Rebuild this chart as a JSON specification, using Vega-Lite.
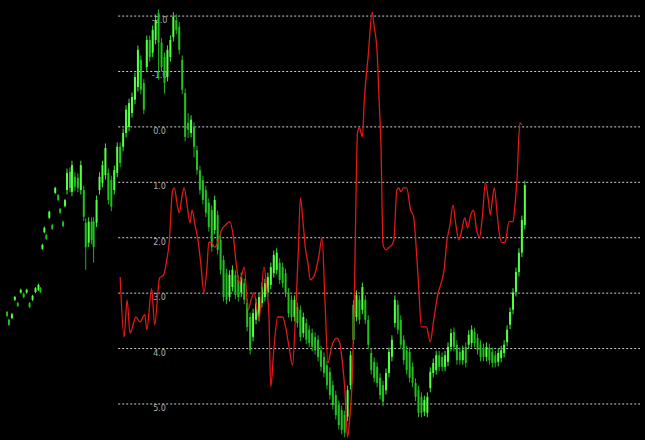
{
  "$schema": "https://vega.github.io/schema/vega-lite/v6.json",
  "width": 645,
  "height": 440,
  "autosize": {"type": "fit", "contains": "padding"},
  "padding": 0,
  "background": "#000000",
  "config": {"view": {"stroke": null}},
  "datasets": {
    "grid": [
      {"v": -2, "label": "-2.0"}, {"v": -1, "label": "-1.0"}, {"v": 0, "label": "0.0"}, {"v": 1, "label": "1.0"},
      {"v": 2, "label": "2.0"}, {"v": 3, "label": "3.0"}, {"v": 4, "label": "4.0"}, {"v": 5, "label": "5.0"}
    ],
    "candles": [
      {"t":2,"o":3.34,"c":3.41,"h":3.32,"l":3.43},
      {"t":4,"o":3.48,"c":3.57,"h":3.46,"l":3.59},
      {"t":7,"o":3.45,"c":3.38,"h":3.36,"l":3.47},
      {"t":10,"o":3.12,"c":3.07,"h":3.05,"l":3.14},
      {"t":13,"o":3.18,"c":3.23,"h":3.16,"l":3.25},
      {"t":16,"o":2.99,"c":2.94,"h":2.92,"l":3.01},
      {"t":19,"o":3.01,"c":3.07,"h":2.99,"l":3.09},
      {"t":22,"o":2.99,"c":2.94,"h":2.92,"l":3.01},
      {"t":25,"o":3.18,"c":3.25,"h":3.16,"l":3.27},
      {"t":28,"o":3.12,"c":3.05,"h":3.03,"l":3.14},
      {"t":31,"o":2.98,"c":2.91,"h":2.89,"l":3.00},
      {"t":34,"o":2.94,"c":2.85,"h":2.83,"l":2.96},
      {"t":36,"o":2.91,"c":2.98,"h":2.89,"l":3.00},
      {"t":38,"o":2.20,"c":2.13,"h":2.11,"l":2.22},
      {"t":40,"o":1.90,"c":1.82,"h":1.80,"l":1.92},
      {"t":42,"o":1.95,"c":2.02,"h":1.93,"l":2.04},
      {"t":45,"o":1.64,"c":1.53,"h":1.51,"l":1.66},
      {"t":48,"o":1.77,"c":1.84,"h":1.75,"l":1.86},
      {"t":51,"o":1.19,"c":1.10,"h":1.08,"l":1.21},
      {"t":54,"o":1.23,"c":1.32,"h":1.21,"l":1.34},
      {"t":56,"o":1.48,"c":1.55,"h":1.46,"l":1.57},
      {"t":59,"o":1.71,"c":1.79,"h":1.69,"l":1.81},
      {"t":61,"o":1.43,"c":1.32,"h":1.30,"l":1.45},
      {"t":63,"o":1.14,"c":0.83,"h":0.75,"l":1.22},
      {"t":66,"o":0.81,"c":1.10,"h":0.73,"l":1.18},
      {"t":68,"o":1.17,"c":0.69,"h":0.61,"l":1.25},
      {"t":71,"o":0.90,"c":1.08,"h":0.82,"l":1.16},
      {"t":74,"o":0.92,"c":1.10,"h":0.84,"l":1.18},
      {"t":77,"o":1.14,"c":0.69,"h":0.61,"l":1.22},
      {"t":80,"o":1.14,"c":1.62,"h":1.06,"l":1.70},
      {"t":82,"o":1.73,"c":2.17,"h":1.65,"l":2.58},
      {"t":85,"o":2.09,"c":1.71,"h":1.63,"l":2.17},
      {"t":88,"o":1.71,"c":2.04,"h":1.63,"l":2.12},
      {"t":90,"o":1.71,"c":2.17,"h":1.63,"l":2.45},
      {"t":93,"o":1.73,"c":1.32,"h":1.24,"l":1.81},
      {"t":96,"o":1.14,"c":0.90,"h":0.82,"l":1.22},
      {"t":99,"o":1.01,"c":0.69,"h":0.61,"l":1.09},
      {"t":102,"o":0.87,"c":0.38,"h":0.30,"l":0.95},
      {"t":105,"o":0.83,"c":1.32,"h":0.75,"l":1.40},
      {"t":108,"o":0.96,"c":1.44,"h":0.88,"l":1.52},
      {"t":111,"o":1.14,"c":0.78,"h":0.70,"l":1.22},
      {"t":114,"o":0.83,"c":0.36,"h":0.28,"l":0.91},
      {"t":117,"o":0.36,"c":0.65,"h":0.28,"l":0.73},
      {"t":120,"o":0.36,"c":0.11,"h":0.03,"l":0.44},
      {"t":123,"o":0.11,"c":-0.31,"h":-0.39,"l":0.19},
      {"t":126,"o":0.00,"c":-0.43,"h":-0.51,"l":0.08},
      {"t":129,"o":-0.25,"c":-0.54,"h":-0.62,"l":-0.17},
      {"t":132,"o":-0.49,"c":-0.90,"h":-0.98,"l":-0.41},
      {"t":135,"o":-0.72,"c":-1.39,"h":-1.47,"l":-0.64},
      {"t":138,"o":-1.21,"c":-0.67,"h":-1.29,"l":-0.59},
      {"t":141,"o":-0.79,"c":-0.31,"h":-0.87,"l":-0.23},
      {"t":144,"o":-1.08,"c":-1.57,"h":-1.65,"l":-1.00},
      {"t":147,"o":-1.57,"c":-1.26,"h":-1.65,"l":-1.18},
      {"t":150,"o":-1.34,"c":-1.75,"h":-1.83,"l":-1.26},
      {"t":153,"o":-1.57,"c":-1.93,"h":-2.03,"l":-1.49},
      {"t":156,"o":-2.06,"c":-1.52,"h":-2.12,"l":-0.85},
      {"t":159,"o":-1.52,"c":-1.08,"h":-1.60,"l":-1.00},
      {"t":162,"o":-1.26,"c":-0.79,"h":-1.34,"l":-0.60},
      {"t":165,"o":-0.90,"c":-1.39,"h":-1.47,"l":-0.82},
      {"t":168,"o":-1.26,"c":-1.57,"h":-1.65,"l":-1.18},
      {"t":171,"o":-1.62,"c":-1.99,"h":-2.07,"l":-1.54},
      {"t":174,"o":-1.93,"c":-1.75,"h":-2.03,"l":-1.67},
      {"t":177,"o":-1.81,"c":-1.39,"h":-1.89,"l":-1.31},
      {"t":180,"o":-1.21,"c":-0.67,"h":-1.29,"l":-0.59},
      {"t":183,"o":-0.61,"c":0.18,"h":-0.69,"l":0.26},
      {"t":186,"o":-0.07,"c":0.05,"h":-0.25,"l":0.20},
      {"t":189,"o":0.11,"c":-0.13,"h":-0.21,"l":0.19},
      {"t":192,"o":0.00,"c":0.36,"h":-0.08,"l":0.55},
      {"t":195,"o":0.42,"c":0.78,"h":0.34,"l":0.86},
      {"t":198,"o":0.78,"c":1.14,"h":0.70,"l":1.22},
      {"t":201,"o":0.96,"c":1.32,"h":0.88,"l":1.40},
      {"t":204,"o":1.14,"c":1.55,"h":1.06,"l":1.63},
      {"t":207,"o":1.37,"c":1.81,"h":1.29,"l":1.89},
      {"t":210,"o":1.50,"c":2.17,"h":1.42,"l":2.25},
      {"t":213,"o":1.86,"c":1.32,"h":1.24,"l":1.94},
      {"t":216,"o":1.59,"c":2.22,"h":1.51,"l":2.30},
      {"t":219,"o":2.04,"c":2.58,"h":1.96,"l":2.66},
      {"t":222,"o":2.40,"c":3.07,"h":2.32,"l":3.15},
      {"t":225,"o":2.64,"c":3.12,"h":2.56,"l":3.20},
      {"t":228,"o":3.07,"c":2.67,"h":2.59,"l":3.15},
      {"t":231,"o":2.89,"c":2.58,"h":2.50,"l":2.97},
      {"t":234,"o":2.67,"c":3.03,"h":2.59,"l":3.11},
      {"t":237,"o":2.76,"c":3.07,"h":2.68,"l":3.15},
      {"t":240,"o":2.99,"c":2.71,"h":2.63,"l":3.07},
      {"t":243,"o":2.82,"c":3.12,"h":2.74,"l":3.20},
      {"t":246,"o":3.18,"c":3.61,"h":3.10,"l":3.69},
      {"t":249,"o":3.43,"c":4.03,"h":3.35,"l":4.11},
      {"t":252,"o":3.79,"c":3.36,"h":3.28,"l":3.87},
      {"t":255,"o":3.48,"c":3.18,"h":3.10,"l":3.56},
      {"t":258,"o":3.43,"c":3.07,"h":2.99,"l":3.51},
      {"t":261,"o":3.18,"c":2.89,"h":2.81,"l":3.26},
      {"t":264,"o":3.07,"c":2.82,"h":2.74,"l":3.15},
      {"t":267,"o":2.99,"c":2.71,"h":2.63,"l":3.07},
      {"t":270,"o":2.85,"c":2.53,"h":2.45,"l":2.93},
      {"t":273,"o":2.64,"c":2.31,"h":2.23,"l":2.72},
      {"t":276,"o":2.58,"c":2.27,"h":2.19,"l":2.66},
      {"t":279,"o":2.45,"c":2.76,"h":2.37,"l":2.84},
      {"t":282,"o":2.53,"c":2.82,"h":2.45,"l":2.90},
      {"t":285,"o":2.64,"c":2.99,"h":2.56,"l":3.07},
      {"t":288,"o":2.99,"c":3.36,"h":2.91,"l":3.44},
      {"t":291,"o":3.12,"c":3.43,"h":3.04,"l":3.51},
      {"t":294,"o":3.43,"c":3.12,"h":3.04,"l":3.51},
      {"t":297,"o":3.25,"c":3.54,"h":3.17,"l":3.62},
      {"t":300,"o":3.30,"c":3.79,"h":3.22,"l":3.87},
      {"t":303,"o":3.72,"c":3.43,"h":3.35,"l":3.80},
      {"t":306,"o":3.54,"c":3.84,"h":3.46,"l":3.92},
      {"t":309,"o":3.66,"c":3.90,"h":3.58,"l":3.98},
      {"t":312,"o":3.72,"c":3.97,"h":3.64,"l":4.05},
      {"t":315,"o":3.79,"c":4.03,"h":3.71,"l":4.11},
      {"t":318,"o":3.84,"c":4.15,"h":3.76,"l":4.23},
      {"t":321,"o":4.03,"c":4.33,"h":3.95,"l":4.41},
      {"t":324,"o":4.15,"c":4.44,"h":4.07,"l":4.52},
      {"t":327,"o":4.30,"c":4.66,"h":4.22,"l":4.74},
      {"t":330,"o":4.42,"c":4.84,"h":4.34,"l":4.92},
      {"t":333,"o":4.66,"c":5.02,"h":4.58,"l":5.10},
      {"t":336,"o":4.84,"c":5.20,"h":4.76,"l":5.28},
      {"t":339,"o":5.02,"c":5.38,"h":4.94,"l":5.46},
      {"t":342,"o":5.11,"c":5.47,"h":5.03,"l":5.55},
      {"t":345,"o":5.20,"c":5.52,"h":5.12,"l":5.60},
      {"t":348,"o":5.23,"c":4.75,"h":4.67,"l":5.31},
      {"t":351,"o":4.66,"c":4.12,"h":4.04,"l":4.74},
      {"t":354,"o":3.84,"c":3.21,"h":3.13,"l":3.92},
      {"t":357,"o":3.43,"c":3.03,"h":2.95,"l":3.51},
      {"t":360,"o":3.12,"c":3.48,"h":3.04,"l":3.56},
      {"t":363,"o":3.30,"c":2.89,"h":2.81,"l":3.38},
      {"t":366,"o":3.12,"c":3.48,"h":3.04,"l":3.56},
      {"t":369,"o":3.48,"c":3.93,"h":3.40,"l":4.01},
      {"t":372,"o":4.08,"c":4.39,"h":4.00,"l":4.47},
      {"t":375,"o":4.24,"c":4.53,"h":4.16,"l":4.61},
      {"t":378,"o":4.33,"c":4.62,"h":4.25,"l":4.70},
      {"t":381,"o":4.53,"c":4.84,"h":4.45,"l":4.92},
      {"t":384,"o":4.66,"c":4.96,"h":4.58,"l":5.04},
      {"t":387,"o":4.75,"c":4.44,"h":4.36,"l":4.83},
      {"t":390,"o":4.44,"c":4.06,"h":3.98,"l":4.52},
      {"t":393,"o":4.15,"c":3.84,"h":3.76,"l":4.23},
      {"t":396,"o":3.54,"c":3.12,"h":3.04,"l":3.62},
      {"t":399,"o":3.21,"c":3.66,"h":3.13,"l":3.74},
      {"t":402,"o":3.48,"c":3.93,"h":3.40,"l":4.01},
      {"t":405,"o":3.84,"c":4.21,"h":3.76,"l":4.29},
      {"t":408,"o":4.03,"c":4.39,"h":3.95,"l":4.47},
      {"t":411,"o":4.06,"c":4.53,"h":3.98,"l":4.61},
      {"t":414,"o":4.33,"c":4.62,"h":4.25,"l":4.70},
      {"t":417,"o":4.62,"c":4.87,"h":4.54,"l":4.95},
      {"t":420,"o":4.75,"c":5.16,"h":4.67,"l":5.24},
      {"t":423,"o":4.87,"c":5.16,"h":4.79,"l":5.24},
      {"t":426,"o":5.14,"c":4.93,"h":4.85,"l":5.22},
      {"t":429,"o":5.16,"c":4.87,"h":4.79,"l":5.24},
      {"t":432,"o":4.71,"c":4.42,"h":4.34,"l":4.79},
      {"t":435,"o":4.44,"c":4.26,"h":4.18,"l":4.52},
      {"t":438,"o":4.39,"c":4.12,"h":4.04,"l":4.47},
      {"t":441,"o":4.12,"c":4.33,"h":4.04,"l":4.41},
      {"t":444,"o":4.15,"c":4.33,"h":4.07,"l":4.41},
      {"t":447,"o":4.33,"c":4.12,"h":4.04,"l":4.41},
      {"t":450,"o":4.24,"c":3.97,"h":3.89,"l":4.32},
      {"t":453,"o":3.97,"c":3.72,"h":3.64,"l":4.05},
      {"t":456,"o":3.70,"c":3.97,"h":3.62,"l":4.05},
      {"t":459,"o":3.93,"c":4.21,"h":3.85,"l":4.29},
      {"t":462,"o":4.06,"c":4.21,"h":3.98,"l":4.29},
      {"t":465,"o":4.21,"c":4.03,"h":3.95,"l":4.29},
      {"t":468,"o":3.97,"c":4.26,"h":3.89,"l":4.34},
      {"t":471,"o":3.93,"c":3.75,"h":3.67,"l":4.01},
      {"t":474,"o":3.90,"c":3.66,"h":3.58,"l":3.98},
      {"t":477,"o":3.70,"c":3.90,"h":3.62,"l":3.98},
      {"t":480,"o":3.81,"c":4.03,"h":3.73,"l":4.11},
      {"t":483,"o":3.93,"c":4.15,"h":3.85,"l":4.23},
      {"t":486,"o":3.99,"c":4.15,"h":3.91,"l":4.23},
      {"t":489,"o":4.15,"c":3.97,"h":3.89,"l":4.23},
      {"t":492,"o":3.99,"c":4.21,"h":3.91,"l":4.29},
      {"t":495,"o":4.06,"c":4.26,"h":3.98,"l":4.34},
      {"t":498,"o":4.12,"c":4.26,"h":4.04,"l":4.34},
      {"t":501,"o":4.24,"c":4.08,"h":4.00,"l":4.32},
      {"t":504,"o":4.17,"c":4.03,"h":3.95,"l":4.25},
      {"t":507,"o":4.08,"c":3.93,"h":3.85,"l":4.16},
      {"t":510,"o":3.88,"c":3.66,"h":3.58,"l":3.96},
      {"t":513,"o":3.57,"c":3.34,"h":3.26,"l":3.65},
      {"t":516,"o":3.30,"c":2.99,"h":2.91,"l":3.38},
      {"t":519,"o":2.98,"c":2.62,"h":2.54,"l":3.06},
      {"t":522,"o":2.62,"c":2.27,"h":2.19,"l":2.70},
      {"t":525,"o":2.27,"c":1.68,"h":1.60,"l":2.35},
      {"t":528,"o":1.77,"c":1.05,"h":0.97,"l":1.85}
    ],
    "red": [
      {"t":117,"v":2.71},{"t":121,"v":3.79},{"t":124,"v":3.12},{"t":127,"v":3.72},{"t":133,"v":3.43},
      {"t":137,"v":3.52},{"t":142,"v":3.39},{"t":144,"v":3.66},{"t":149,"v":2.92},{"t":152,"v":3.57},
      {"t":157,"v":2.73},{"t":161,"v":2.67},{"t":164,"v":2.44},{"t":167,"v":2.04},{"t":170,"v":1.17},
      {"t":172,"v":1.10},{"t":175,"v":1.41},{"t":177,"v":1.55},{"t":180,"v":1.23},{"t":182,"v":1.10},
      {"t":185,"v":1.41},{"t":188,"v":1.73},{"t":190,"v":1.50},{"t":193,"v":1.77},{"t":196,"v":2.04},
      {"t":199,"v":2.49},{"t":202,"v":2.98},{"t":205,"v":2.58},{"t":207,"v":2.08},{"t":210,"v":2.09},
      {"t":213,"v":2.17},{"t":217,"v":2.04},{"t":220,"v":1.86},{"t":224,"v":1.77},{"t":228,"v":1.71},
      {"t":232,"v":1.99},{"t":235,"v":2.49},{"t":238,"v":2.82},{"t":243,"v":2.53},{"t":247,"v":3.30},
      {"t":250,"v":3.12},{"t":253,"v":2.99},{"t":256,"v":3.30},{"t":258,"v":3.48},{"t":263,"v":2.53},
      {"t":266,"v":2.94},{"t":268,"v":3.36},{"t":270,"v":4.69},{"t":273,"v":4.03},{"t":277,"v":3.43},
      {"t":282,"v":3.43},{"t":285,"v":3.61},{"t":289,"v":4.03},{"t":292,"v":4.30},{"t":295,"v":3.45},
      {"t":298,"v":2.22},{"t":300,"v":1.28},{"t":303,"v":1.77},{"t":305,"v":2.17},{"t":308,"v":2.49},
      {"t":310,"v":2.76},{"t":315,"v":2.64},{"t":319,"v":2.31},{"t":322,"v":2.00},{"t":325,"v":3.12},
      {"t":328,"v":4.26},{"t":331,"v":4.03},{"t":333,"v":3.90},{"t":337,"v":3.81},{"t":340,"v":3.90},
      {"t":343,"v":4.30},{"t":345,"v":4.69},{"t":348,"v":5.60},{"t":350,"v":5.29},{"t":353,"v":4.39},
      {"t":355,"v":2.94},{"t":357,"v":0.78},{"t":358,"v":0.11},{"t":360,"v":0.02},{"t":363,"v":0.18},
      {"t":365,"v":-0.49},{"t":369,"v":-1.30},{"t":373,"v":-2.07},{"t":375,"v":-1.81},{"t":378,"v":-1.34},
      {"t":380,"v":-0.49},{"t":382,"v":0.42},{"t":384,"v":2.13},{"t":387,"v":2.22},{"t":390,"v":2.17},
      {"t":393,"v":2.13},{"t":395,"v":2.04},{"t":398,"v":1.14},{"t":400,"v":1.10},{"t":402,"v":1.17},
      {"t":405,"v":1.10},{"t":408,"v":1.10},{"t":412,"v":1.50},{"t":415,"v":1.62},{"t":418,"v":2.27},
      {"t":420,"v":2.82},{"t":423,"v":3.61},{"t":428,"v":3.61},{"t":432,"v":3.88},{"t":435,"v":3.54},
      {"t":440,"v":2.99},{"t":443,"v":2.82},{"t":446,"v":2.58},{"t":449,"v":2.04},{"t":452,"v":1.77},
      {"t":455,"v":1.41},{"t":458,"v":1.77},{"t":461,"v":2.04},{"t":464,"v":1.86},{"t":467,"v":1.64},
      {"t":470,"v":1.82},{"t":473,"v":1.59},{"t":476,"v":1.50},{"t":479,"v":1.86},{"t":482,"v":1.99},
      {"t":485,"v":1.59},{"t":488,"v":1.01},{"t":491,"v":1.32},{"t":493,"v":1.59},{"t":495,"v":1.32},
      {"t":497,"v":1.10},{"t":500,"v":1.59},{"t":502,"v":1.91},{"t":505,"v":2.09},{"t":508,"v":2.08},
      {"t":512,"v":1.71},{"t":516,"v":1.71},{"t":518,"v":1.41},{"t":520,"v":0.96},{"t":523,"v":-0.07},
      {"t":525,"v":-0.04}
    ]
  },
  "encoding": {
    "x": {"type": "quantitative", "scale": {"domain": [0, 645], "nice": false, "zero": false}, "axis": null}
  },
  "layer": [
    {
      "data": {"name": "grid"},
      "mark": {"type": "rule", "color": "#d0d0d0", "strokeWidth": 1, "strokeDash": [2, 2]},
      "encoding": {
        "x": {"datum": 115, "type": "quantitative"},
        "x2": {"datum": 645},
        "y": {"field": "v", "type": "quantitative", "scale": {"domain": [-2.29, 5.65], "reverse": true, "nice": false, "zero": false}, "axis": null}
      }
    },
    {
      "data": {"name": "grid"},
      "mark": {"type": "text", "color": "#b0b0b0", "fontSize": 8, "font": "DejaVu Sans", "align": "center", "baseline": "middle", "dy": 5},
      "encoding": {
        "x": {"datum": 157, "type": "quantitative"},
        "y": {"field": "v", "type": "quantitative"},
        "text": {"field": "label"}
      }
    },
    {
      "data": {"name": "candles"},
      "mark": {"type": "rule", "strokeWidth": 1},
      "encoding": {
        "x": {"field": "t", "type": "quantitative"},
        "y": {"field": "h", "type": "quantitative"},
        "y2": {"field": "l"},
        "color": {"condition": {"test": "datum.c < datum.o", "value": "#3ce83c"}, "value": "#1fb01f"}
      }
    },
    {
      "data": {"name": "candles"},
      "mark": {"type": "bar", "width": 2},
      "encoding": {
        "x": {"field": "t", "type": "quantitative"},
        "y": {"field": "o", "type": "quantitative"},
        "y2": {"field": "c"},
        "color": {"condition": {"test": "datum.c < datum.o", "value": "#55ff44"}, "value": "#22c022"}
      }
    },
    {
      "data": {"name": "red"},
      "mark": {"type": "line", "color": "#e01818", "strokeWidth": 1.3, "interpolate": "monotone"},
      "encoding": {
        "x": {"field": "t", "type": "quantitative"},
        "y": {"field": "v", "type": "quantitative"}
      }
    }
  ]
}
